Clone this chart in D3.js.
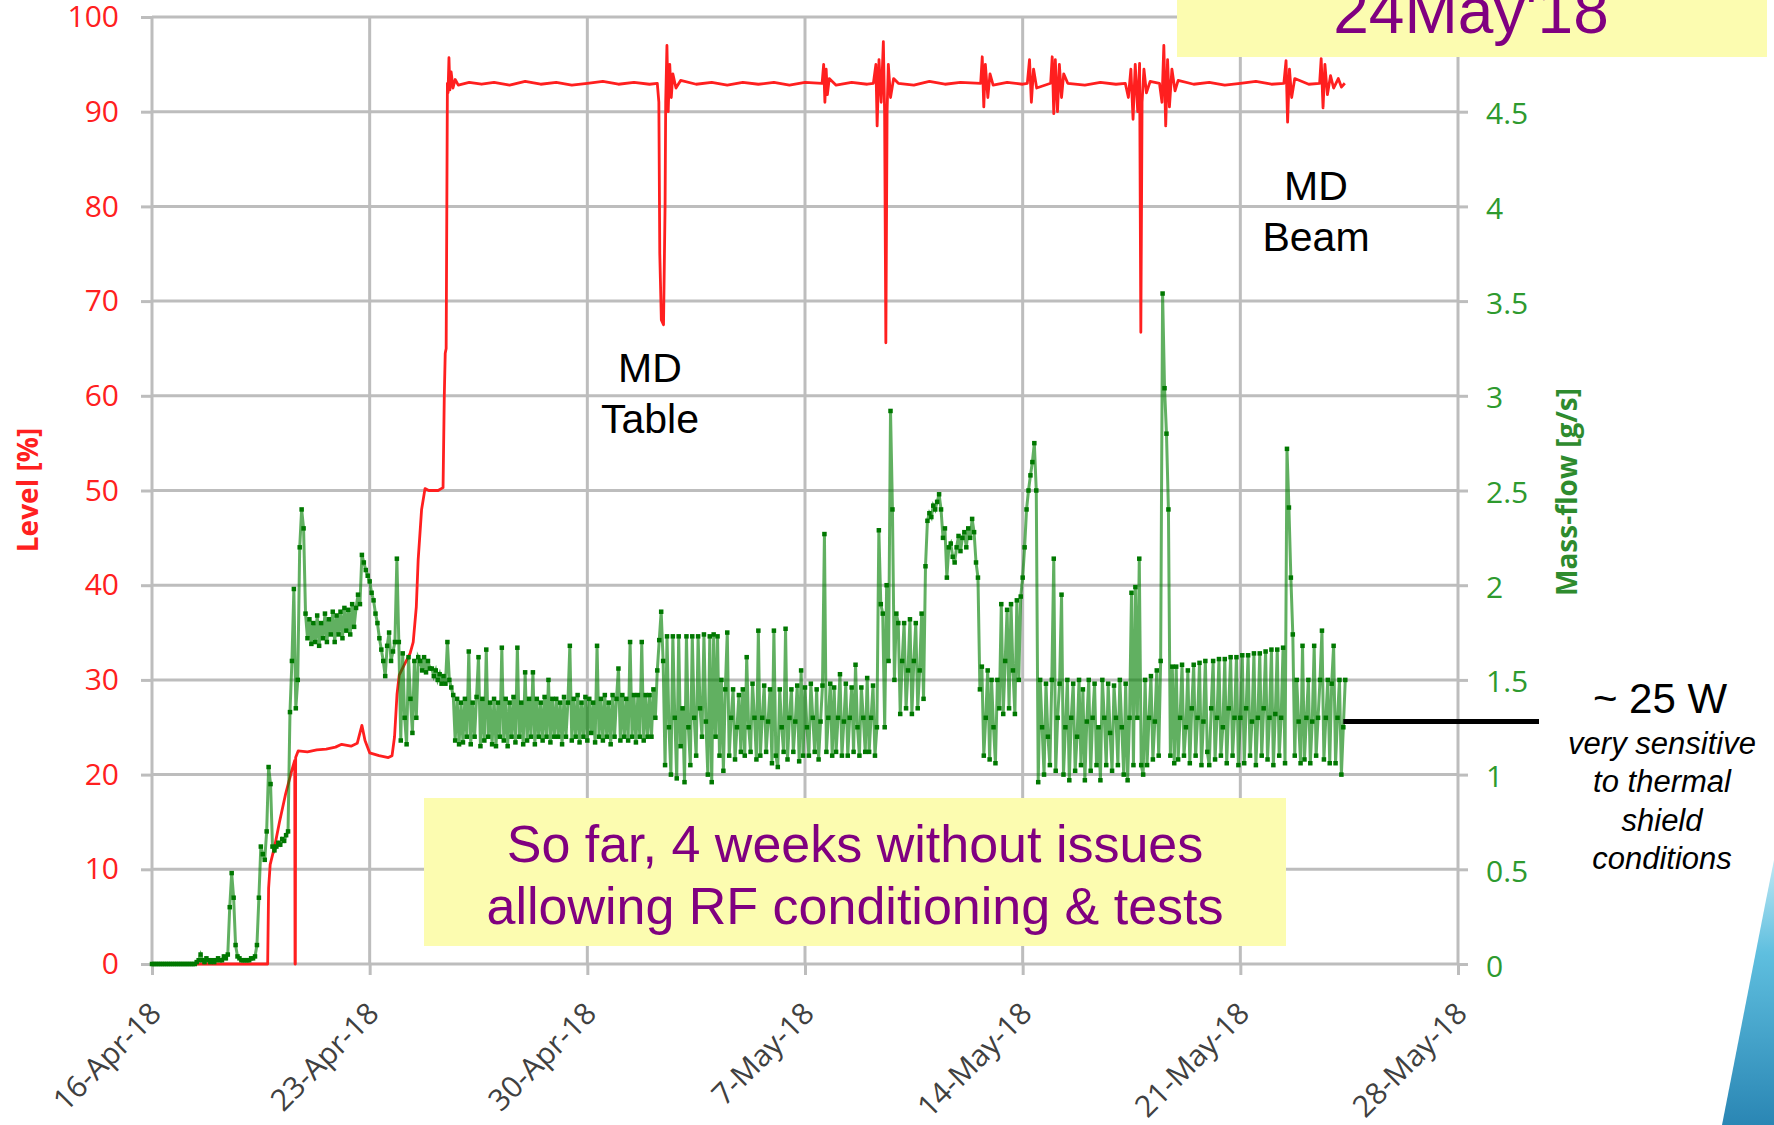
<!DOCTYPE html>
<html>
<head>
<meta charset="utf-8">
<script src="https://cdn.jsdelivr.net/npm/d3@7/dist/d3.min.js"></script>
<style>
body { margin: 0; background: #ffffff; }
svg { display: block; }
</style>
</head>
<body>
<svg id="mainSvg" width="1774" height="1125"></svg>
<script>
// ---- data ----
// x axis: weekly ticks
var weekLabels = ["16-Apr-18", "23-Apr-18", "30-Apr-18", "7-May-18", "14-May-18", "21-May-18", "28-May-18"];
// left axis (Level %) and right axis (Mass-flow g/s)
var levelTicks = [0, 10, 20, 30, 40, 50, 60, 70, 80, 90, 100];
var flowTicks = [0, 0.5, 1, 1.5, 2, 2.5, 3, 3.5, 4, 4.5, 5];

// Level [%], days after 16-Apr-18
var levelDays = [0, 3.72, 3.75, 3.8, 3.95, 4.1, 4.3, 4.5, 4.59, 4.6, 4.61, 4.62, 4.7, 5.0, 5.3, 5.6, 5.9, 6.1, 6.4, 6.6, 6.75, 6.85,
    7.0, 7.3, 7.6, 7.72, 7.8, 7.88, 7.95, 8.1, 8.3, 8.4, 8.5, 8.56, 8.67, 8.78, 8.9, 9.2, 9.36, 9.4, 9.43, 9.46,
    9.5, 9.52, 9.55, 9.58, 9.62, 9.68, 9.75, 9.85, 10.2, 10.6, 11.0, 11.5, 12.0, 12.5, 13.0, 13.5, 14.0, 14.5, 15.0, 15.5, 16.0,
    16.25, 16.3, 16.33, 16.38, 16.45, 16.5, 16.52, 16.56, 16.6, 16.65, 16.7, 16.75, 16.85, 17.0, 17.5, 18.0, 18.5, 19.0, 19.5,
    20.0, 20.5, 21.0, 21.55, 21.6, 21.64, 21.68, 21.72, 21.78, 22.0, 22.5, 23.0, 23.2, 23.28, 23.32, 23.38, 23.45, 23.52, 23.56,
    23.6, 23.64, 23.68, 23.75, 23.85, 24.0, 24.5, 25.0, 25.5, 26.0, 26.65, 26.7, 26.75, 26.8, 26.88, 26.95, 27.05, 27.5, 28.0,
    28.15, 28.22, 28.28, 28.35, 28.45, 28.9, 28.95, 29.0, 29.05, 29.12, 29.18, 29.25, 29.32, 29.45, 30.0, 30.5, 31.0, 31.3,
    31.4, 31.48, 31.55, 31.62, 31.7, 31.76, 31.8, 31.84, 31.9, 31.98, 32.1, 32.4, 32.48, 32.54, 32.6, 32.66, 32.72, 32.8, 32.9,
    33.0, 33.5, 34.0, 34.5, 35.0, 35.5, 36.0, 36.4, 36.47, 36.52, 36.58, 36.65, 36.75, 37.2, 37.55, 37.6, 37.66, 37.72, 37.8,
    37.9, 38.0, 38.15, 38.25, 38.36];
var levelPct = [0, 0, 8, 10.5, 12.5, 15, 18, 20.5, 21.5, 0, 0, 21.8, 22.5, 22.4, 22.6, 22.7, 22.9, 23.2, 23.0, 23.3, 25.2, 23.6,
    22.3, 22.0, 21.8, 22, 24, 28.5, 30.5, 31.5, 32.8, 34, 37.7, 42.7, 48, 50.2, 50, 50, 50.3, 60, 64.5, 65,
    93, 92, 95.7, 92.3, 94.2, 92.5, 93.4, 92.8, 93.1, 92.9, 93.1, 92.8, 93.2, 92.9, 93.1, 92.8, 93.0, 93.2, 92.9, 93.1, 92.9,
    93, 91, 75, 68, 67.5, 80, 91, 97, 90, 95, 91.5, 94, 92.5, 93.3, 92.9, 93.1, 92.8, 93.1, 92.9,
    93.1, 92.8, 93.1, 93, 95, 91, 94.5, 91.8, 93.5, 92.8, 93.1, 92.9, 93, 95, 88.5, 95.5, 91, 97.4, 90,
    65.6, 90, 95, 91.5, 93.5, 93, 92.8, 93.2, 92.9, 93.1, 93, 95.8, 90.5, 95, 91.5, 94, 92.8, 93.1, 92.9,
    93, 95.5, 91, 94.5, 92.5, 93, 95.8, 89.8, 95.5, 90, 95, 91.5, 94, 93, 92.8, 93.1, 92.9, 93,
    91.5, 94.5, 89.2, 95, 90, 95.1, 66.7, 91, 94.5, 92, 93.2, 93, 91, 97, 88.5, 95.5, 90.5, 94.5, 92.2,
    93.3, 92.9, 93.1, 92.8, 93.0, 93.2, 92.9, 93, 95.4, 88.9, 94.5, 91.5, 93.5, 92.9, 93, 95.6, 90.4, 95, 91.8,
    93.8, 92.5, 93.5, 92.6, 93];

// Mass-flow [g/s], one reading every 1.5 hours from 16-Apr-18 (one row = one day)
var flowStepDays = 1 / 16;
var flowValues = [
    0, 0, 0, 0, 0, 0, 0, 0, 0, 0, 0, 0, 0, 0, 0, 0,
    0, 0, 0, 0, 0, 0, 0, 0.01, 0.02, 0.05, 0.02, 0.01, 0.03, 0.02, 0.01, 0.02,
    0.01, 0.02, 0.03, 0.02, 0.02, 0.04, 0.03, 0.05, 0.3, 0.48, 0.35, 0.1, 0.04, 0.03, 0.02, 0.02,
    0.02, 0.02, 0.02, 0.03, 0.03, 0.04, 0.1, 0.35, 0.62, 0.58, 0.55, 0.7, 1.04, 0.95, 0.62, 0.6,
    0.62, 0.64, 0.63, 0.66, 0.65, 0.68, 0.7, 1.33, 1.6, 1.98, 1.35, 1.5, 2.2, 2.4, 2.3, 1.85,
    1.72, 1.82, 1.69, 1.8, 1.7, 1.84, 1.68, 1.8, 1.72, 1.85, 1.7, 1.82, 1.74, 1.86, 1.7, 1.84,
    1.74, 1.86, 1.72, 1.88, 1.76, 1.87, 1.74, 1.9, 1.78, 1.88, 1.95, 1.9, 2.16, 2.12, 2.08, 2.05,
    2.02, 1.96, 1.92, 1.85, 1.8, 1.72, 1.66, 1.6, 1.52, 1.68, 1.75, 1.6, 1.65, 1.7, 2.14, 1.7,
    1.18, 1.64, 1.3, 1.16, 1.62, 1.4, 1.22, 1.6, 1.3, 1.62, 1.6, 1.55, 1.62, 1.54, 1.6, 1.56,
    1.56, 1.52, 1.55, 1.5, 1.53, 1.48, 1.52, 1.48, 1.7, 1.5, 1.46, 1.42, 1.18, 1.4, 1.16, 1.38,
    1.17, 1.4, 1.2, 1.65, 1.16, 1.38, 1.2, 1.41, 1.62, 1.15, 1.4, 1.18, 1.66, 1.2, 1.38, 1.16,
    1.4, 1.15, 1.38, 1.2, 1.67, 1.18, 1.4, 1.15, 1.38, 1.2, 1.41, 1.17, 1.67, 1.2, 1.38, 1.16,
    1.54, 1.18, 1.4, 1.2, 1.54, 1.16, 1.4, 1.2, 1.38, 1.18, 1.41, 1.2, 1.5, 1.17, 1.4, 1.2,
    1.4, 1.2, 1.38, 1.16, 1.41, 1.2, 1.38, 1.68, 1.18, 1.4, 1.2, 1.42, 1.17, 1.38, 1.2, 1.41,
    1.18, 1.4, 1.22, 1.38, 1.17, 1.68, 1.2, 1.4, 1.18, 1.42, 1.2, 1.38, 1.16, 1.42, 1.2, 1.4,
    1.56, 1.18, 1.42, 1.2, 1.4, 1.18, 1.7, 1.2, 1.42, 1.17, 1.42, 1.2, 1.7, 1.18, 1.42, 1.2,
    1.42, 1.2, 1.45, 1.3, 1.55, 1.71, 1.86, 1.6, 1.05, 1.73, 1.25, 1.0, 1.73, 1.3, 0.98, 1.73,
    1.15, 1.35, 0.96, 1.73, 1.25, 1.05, 1.73, 1.3, 1.1, 1.73, 1.35, 1.2, 1.74, 1.28, 1.0, 1.73,
    0.96, 1.74, 1.2, 1.73, 1.1, 1.5, 1.02, 1.45, 1.75, 1.1, 1.3, 1.45, 1.08, 1.25, 1.42, 1.12,
    1.45, 1.1, 1.62, 1.25, 1.12, 1.48, 1.3, 1.08, 1.76, 1.1, 1.3, 1.47, 1.12, 1.28, 1.45, 1.06,
    1.76, 1.1, 1.04, 1.45, 1.25, 1.12, 1.77, 1.08, 1.3, 1.45, 1.12, 1.28, 1.47, 1.07, 1.55, 1.1,
    1.46, 1.25, 1.1, 1.48, 1.3, 1.12, 1.45, 1.08, 1.28, 1.47, 2.27, 1.12, 1.3, 1.48, 1.1, 1.46,
    1.12, 1.3, 1.53, 1.1, 1.28, 1.48, 1.1, 1.3, 1.46, 1.12, 1.58, 1.25, 1.1, 1.46, 1.3, 1.12,
    1.51, 1.12, 1.3, 1.47, 1.1, 1.25, 2.29, 1.9, 1.85, 1.25, 2.0, 1.6, 2.92, 2.4, 1.5, 1.85,
    1.8, 1.32, 1.6, 1.8, 1.35, 1.55, 1.82, 1.32, 1.6, 1.8, 1.35, 1.55, 1.85, 1.4, 2.1, 2.34,
    2.38, 2.36, 2.42, 2.4, 2.44, 2.48, 2.4, 2.25, 2.3, 2.04, 2.2, 2.22, 2.15, 2.12, 2.2, 2.26,
    2.18, 2.25, 2.28, 2.2, 2.3, 2.25, 2.35, 2.28, 2.12, 2.04, 1.45, 1.57, 1.1, 1.3, 1.55, 1.08,
    1.5, 1.25, 1.06, 1.5, 1.35, 1.9, 1.32, 1.6, 1.87, 1.35, 1.9, 1.55, 1.32, 1.92, 1.5, 1.94,
    2.04, 2.2, 2.4, 2.5, 2.58, 2.65, 2.75, 2.5, 0.96, 1.5, 1.25, 1.0, 1.48, 1.2, 1.05, 1.5,
    2.14, 1.02, 1.3, 1.48, 1.95, 1.0, 1.25, 1.5, 0.97, 1.3, 1.48, 1.02, 1.2, 1.5, 1.05, 1.45,
    0.97, 1.28, 1.5, 1.02, 1.3, 1.48, 1.05, 1.25, 0.97, 1.5, 1.3, 1.05, 1.48, 1.22, 1.02, 1.47,
    1.3, 1.05, 1.5, 1.25, 1.0, 1.48, 0.97, 1.3, 1.96, 1.05, 1.99, 1.3, 2.14, 1.05, 1.0, 1.5,
    1.05, 1.3, 1.52, 1.08, 1.28, 1.55, 1.1, 1.6, 3.54, 3.04, 2.8, 2.4, 1.1, 1.57, 1.06, 1.57,
    1.08, 1.3, 1.58, 1.1, 1.25, 1.55, 1.06, 1.35, 1.58, 1.1, 1.3, 1.59, 1.05, 1.28, 1.6, 1.12,
    1.05, 1.35, 1.6, 1.08, 1.3, 1.61, 1.1, 1.25, 1.61, 1.06, 1.35, 1.62, 1.1, 1.3, 1.62, 1.05,
    1.3, 1.63, 1.06, 1.35, 1.63, 1.1, 1.28, 1.64, 1.05, 1.3, 1.64, 1.1, 1.35, 1.65, 1.08, 1.3,
    1.66, 1.05, 1.32, 1.66, 1.1, 1.3, 1.67, 1.06, 2.72, 2.41, 2.04, 1.74, 1.1, 1.5, 1.28, 1.06,
    1.68, 1.08, 1.3, 1.5, 1.06, 1.28, 1.68, 1.1, 1.3, 1.5, 1.76, 1.08, 1.3, 1.5, 1.06, 1.48,
    1.68, 1.06, 1.3, 1.5, 1.0, 1.25, 1.5
];

// ---- setup ----
var startDate = new Date(Date.UTC(2018, 3, 16));
var endDate = new Date(Date.UTC(2018, 4, 28));
function dayToDate(d) { return new Date(startDate.getTime() + d * 86400000); }

var svg = d3.select("#mainSvg");
var x = d3.scaleUtc().domain([startDate, endDate]).range([152, 1458]);
var yL = d3.scaleLinear().domain([0, 100]).range([964, 17]);
var yR = d3.scaleLinear().domain([0, 5]).range([964, 17]);
var weekDates = weekLabels.map(function (d, i) { return d3.utcDay.offset(startDate, 7 * i); });
var gridColor = "#bdbdbd";

// gridlines
svg.append("g").selectAll("line").data(levelTicks).enter().append("line")
    .attr("x1", 152).attr("x2", 1458).attr("y1", function (d) { return yL(d); }).attr("y2", function (d) { return yL(d); })
    .style("stroke", gridColor).style("stroke-width", 3);
svg.append("g").selectAll("line").data(weekDates).enter().append("line")
    .attr("x1", function (d) { return x(d); }).attr("x2", function (d) { return x(d); }).attr("y1", 17).attr("y2", 964)
    .style("stroke", gridColor).style("stroke-width", 3);

// axes (ticks + labels); the "5" label sits under the date box, so it is left blank
var leftAxis = svg.append("g").attr("transform", "translate(152,0)")
    .call(d3.axisLeft(yL).tickValues(levelTicks).tickSize(11).tickPadding(22));
var rightAxis = svg.append("g").attr("transform", "translate(1458,0)")
    .call(d3.axisRight(yR).tickValues(flowTicks).tickSize(10).tickPadding(18)
        .tickFormat(function (d) { return d === 5 ? "" : d3.format("")(d); }));
var bottomAxis = svg.append("g").attr("transform", "translate(0,964)")
    .call(d3.axisBottom(x).tickValues(weekDates).tickSize(11).tickFormat(function (d, i) { return weekLabels[i]; }));

[leftAxis, rightAxis, bottomAxis].forEach(function (a) {
    a.select(".domain").remove();
    a.selectAll(".tick line").style("stroke", gridColor).style("stroke-width", 3);
    a.selectAll("text").style("font-family", "'Open Sans', sans-serif").style("font-size", "30px");
});
leftAxis.selectAll("text").style("fill", "#ff2020");
rightAxis.selectAll("text").style("fill", "#2e9a2e").attr("dy", "0.4em");
bottomAxis.selectAll("text").style("fill", "#404040")
    .attr("text-anchor", "end").attr("y", 0).attr("dy", "0.35em")
    .attr("transform", "translate(3,44) rotate(-45)");

// axis titles
svg.append("text").attr("transform", "translate(38,490) rotate(-90)").attr("text-anchor", "middle")
    .style("font-family", "'Open Sans', sans-serif").style("font-weight", "bold").style("font-size", "28px")
    .style("fill", "#ff2020").text("Level [%]");
svg.append("text").attr("transform", "translate(1577,492) rotate(-90)").attr("text-anchor", "middle")
    .style("font-family", "'Open Sans', sans-serif").style("font-weight", "bold").style("font-size", "28px")
    .style("fill", "#2e8b2e").text("Mass-flow [g/s]");

// level series (red)
var levelData = levelDays.map(function (d, i) { return { date: dayToDate(d), v: levelPct[i] }; });
svg.append("path").datum(levelData)
    .attr("d", d3.line().x(function (d) { return x(d.date); }).y(function (d) { return yL(d.v); }))
    .style("fill", "none").style("stroke", "#ff1f1f").style("stroke-width", 2.8).style("stroke-linejoin", "round");

// mass-flow series (green, line + markers)
var flowData = flowValues.map(function (v, i) { return { date: dayToDate(i * flowStepDays), v: v }; });
svg.append("path").datum(flowData)
    .attr("d", d3.line().x(function (d) { return x(d.date); }).y(function (d) { return yR(d.v); }))
    .style("fill", "none").style("stroke", "#008000").style("stroke-opacity", 0.62).style("stroke-width", 3);
svg.append("g").selectAll("rect").data(flowData).enter().append("rect")
    .attr("x", function (d) { return x(d.date) - 2.25; }).attr("y", function (d) { return yR(d.v) - 2.25; })
    .attr("width", 4.5).attr("height", 4.5).style("fill", "#007800");

// ---- annotations ----
var arial = "'Liberation Sans', Arial, sans-serif";
svg.append("rect").attr("x", 1177).attr("y", 0).attr("width", 590).attr("height", 57).style("fill", "#fcfcb0");
svg.append("text").attr("x", 1471).attr("y", 33).attr("text-anchor", "middle")
    .style("font-family", arial).style("font-size", "64px").style("fill", "#800080").text("24May'18");

svg.append("rect").attr("x", 424).attr("y", 798).attr("width", 862).attr("height", 148).style("fill", "#fcfcb0");
svg.append("text").attr("x", 855).attr("y", 862).attr("text-anchor", "middle")
    .style("font-family", arial).style("font-size", "52px").style("fill", "#800080").text("So far, 4 weeks without issues");
svg.append("text").attr("x", 855).attr("y", 924).attr("text-anchor", "middle")
    .style("font-family", arial).style("font-size", "52px").style("fill", "#800080").text("allowing RF conditioning & tests");

function label(lines, cx, y0, step, size, italic) {
    var t = svg.append("text").attr("text-anchor", "middle")
        .style("font-family", arial).style("font-size", size + "px").style("fill", "#000");
    if (italic) t.style("font-style", "italic");
    lines.forEach(function (s, i) { t.append("tspan").attr("x", cx).attr("y", y0 + i * step).text(s); });
}
label(["MD", "Table"], 650, 382, 51, 41);
label(["MD", "Beam"], 1316, 200, 51, 41);
label(["~ 25 W"], 1660, 713, 0, 42);
label(["very sensitive", "to thermal", "shield", "conditions"], 1662, 754, 38.3, 31, true);

// ~25 W marker line from the end of the flow data
svg.append("line").attr("x1", x(flowData[flowData.length - 1].date) - 2).attr("x2", 1539)
    .attr("y1", yR(1.28)).attr("y2", yR(1.28)).style("stroke", "#000").style("stroke-width", 5);

// slide decoration, bottom right
var grad = svg.append("defs").append("linearGradient").attr("id", "swoosh").attr("x1", 0).attr("y1", 0).attr("x2", 0).attr("y2", 1);
grad.append("stop").attr("offset", "0%").attr("stop-color", "#bfe8f4");
grad.append("stop").attr("offset", "35%").attr("stop-color", "#5fbfdf");
grad.append("stop").attr("offset", "100%").attr("stop-color", "#2a86b4");
svg.append("path").attr("d", "M1774,860 L1766,900 L1722,1125 L1774,1125 Z").style("fill", "url(#swoosh)");
</script>
</body>
</html>
